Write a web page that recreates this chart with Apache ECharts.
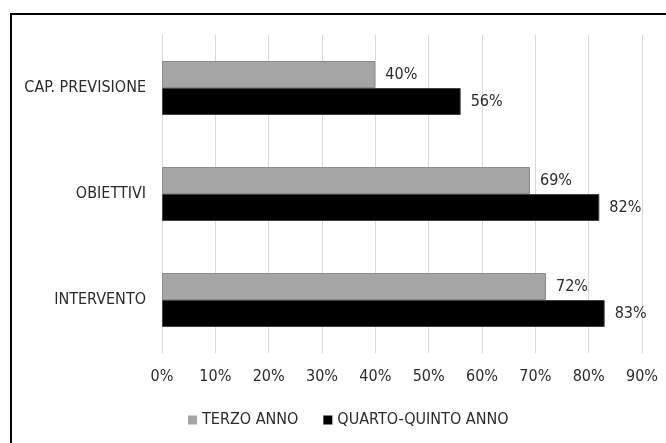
<!DOCTYPE html>
<html>
<head>
<meta charset="utf-8">
<script src="https://cdn.jsdelivr.net/npm/echarts@6/dist/echarts.min.js"></script>
<style>
  html, body { margin: 0; padding: 0; background: #fff; }
  #chart { width: 666px; height: 443px; }
</style>
</head>
<body>
<div id="chart"></div>
<script>
// Categories (top to bottom) and percentages per school year group
const categories = ['CAP. PREVISIONE', 'OBIETTIVI', 'INTERVENTO'];
const terzoAnno = [40, 69, 72];
const quartoQuintoAnno = [56, 82, 83];
const seriesNames = ['TERZO ANNO', 'QUARTO-QUINTO ANNO'];

const FONT = '"Liberation Sans Narrow", "DejaVu Sans Condensed", sans-serif';
const TEXT = '#2b2b2b';

const chart = echarts.init(document.getElementById('chart'), null, { renderer: 'canvas' });

const labelOpt = {
  show: true,
  position: 'right',
  distance: 10,
  formatter: p => p.value + '%',
  color: TEXT,
  fontFamily: FONT,
  fontSize: 16
};

chart.setOption({
  animation: false,
  backgroundColor: '#fff',
  textStyle: { fontFamily: FONT },
  graphic: [{
    type: 'rect',
    shape: { x: 11, y: 14, width: 800, height: 600 },
    style: { fill: 'none', stroke: '#000', lineWidth: 2 },
    silent: true,
    z: 100
  }],
  grid: { left: 162, right: 24, top: 35, bottom: 90 },
  legend: {
    left: 183,
    top: 407,
    itemWidth: 9,
    itemHeight: 9,
    itemGap: 25,
    icon: 'rect',
    itemStyle: { borderWidth: 0 },
    textStyle: { color: TEXT, fontFamily: FONT, fontSize: 16 },
    data: seriesNames
  },
  xAxis: {
    type: 'value',
    min: 0,
    max: 90,
    interval: 10,
    axisLine: { show: false },
    axisTick: { show: false },
    axisLabel: { formatter: '{value}%', color: TEXT, fontFamily: FONT, fontSize: 16, margin: 16 },
    splitLine: { show: true, lineStyle: { color: '#d9d9d9', width: 1 } }
  },
  yAxis: {
    type: 'category',
    data: categories,
    inverse: true,
    axisLine: { show: true, lineStyle: { color: '#d9d9d9' } },
    axisTick: { show: false },
    axisLabel: { color: TEXT, fontFamily: FONT, fontSize: 16, margin: 16 }
  },
  series: [
    {
      name: seriesNames[0],
      type: 'bar',
      data: terzoAnno,
      barWidth: 27,
      barGap: '0%',
      itemStyle: { color: '#a5a5a5', borderColor: '#8a8a8a', borderWidth: 1 },
      label: labelOpt
    },
    {
      name: seriesNames[1],
      type: 'bar',
      data: quartoQuintoAnno,
      barWidth: 27,
      barGap: '0%',
      itemStyle: { color: '#000000', borderColor: '#404040', borderWidth: 1 },
      label: labelOpt
    }
  ]
});
</script>
</body>
</html>
